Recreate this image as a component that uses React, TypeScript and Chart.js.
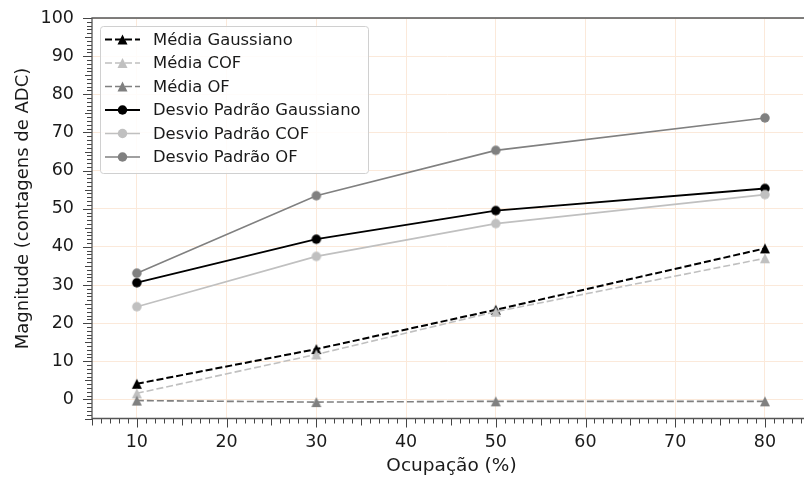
import React, { useEffect, useRef } from "react";
import { Chart, registerables } from "chart.js";

Chart.register(...registerables);

// ---- Data ----
const occupancy = [10, 30, 50, 80];
const mediaGaussiano = [4.1, 13.2, 23.5, 39.6];
const mediaCOF = [1.6, 11.8, 23.0, 37.0];
const mediaOF = [-0.3, -0.7, -0.5, -0.5];
const desvioGaussiano = [30.6, 42.0, 49.5, 55.3];
const desvioCOF = [24.3, 37.5, 46.1, 53.7];
const desvioOF = [33.1, 53.4, 65.3, 73.8];

const seriesLabels = [
  "Média Gaussiano",
  "Média COF",
  "Média OF",
  "Desvio Padrão Gaussiano",
  "Desvio Padrão COF",
  "Desvio Padrão OF",
];

const xTickValues = [10, 20, 30, 40, 50, 60, 70, 80];
const yTickValues = [0, 10, 20, 30, 40, 50, 60, 70, 80, 90, 100];

const xTitle = "Ocupação (%)";
const yTitle = "Magnitude (contagens de ADC)";

const X_MIN = 5;
const X_MAX = 84.24;
const Y_MIN = -5;
const Y_MAX = 100;

const FONT = "'DejaVu Sans', 'Liberation Sans', sans-serif";

type Shape = "triangle" | "circle";

function drawMarker(
  ctx: CanvasRenderingContext2D,
  shape: Shape,
  x: number,
  y: number,
  color: string,
  size: number
) {
  ctx.save();
  ctx.fillStyle = color;
  ctx.beginPath();
  if (shape === "triangle") {
    const h = size / 2;
    ctx.moveTo(x, y - h);
    ctx.lineTo(x + h, y + h);
    ctx.lineTo(x - h, y + h);
    ctx.closePath();
  } else {
    ctx.arc(x, y, size / 2, 0, Math.PI * 2);
  }
  ctx.fill();
  ctx.restore();
}

function makeMarker(shape: Shape, color: string, size: number) {
  const c = document.createElement("canvas");
  c.width = 14;
  c.height = 14;
  const ctx = c.getContext("2d")!;
  drawMarker(ctx, shape, 7, 7, color, size);
  return c;
}

const BLACK = "#000000";
const SILVER = "#c0c0c0";
const GRAY = "#808080";
const DASH = [7, 3];

const styles = [
  { color: BLACK, dash: DASH, shape: "triangle" as Shape, width: 2 },
  { color: SILVER, dash: DASH, shape: "triangle" as Shape, width: 1.6 },
  { color: GRAY, dash: DASH, shape: "triangle" as Shape, width: 1.6 },
  { color: BLACK, dash: [] as number[], shape: "circle" as Shape, width: 1.8 },
  { color: SILVER, dash: [] as number[], shape: "circle" as Shape, width: 1.6 },
  { color: GRAY, dash: [] as number[], shape: "circle" as Shape, width: 1.6 },
];

const MARKER_SIZE: Record<Shape, number> = { triangle: 10, circle: 9.5 };

const mplPlugin = {
  id: "mplAxesLegend",
  afterDraw(chart: any) {
    const { ctx, chartArea, scales } = chart;
    const { left, right, top, bottom } = chartArea;
    const xs = scales.x;
    const ys = scales.y;
    ctx.save();
    // ticks (major / medium / minor)
    ctx.strokeStyle = "#444";
    ctx.lineWidth = 1;
    for (let v = Math.ceil(xs.min); v <= xs.max; v += 1) {
      const px = Math.round(xs.getPixelForValue(v)) + 0.5;
      const len = v % 10 === 0 ? 9 : v % 5 === 0 ? 7 : 5;
      ctx.beginPath();
      ctx.moveTo(px, bottom);
      ctx.lineTo(px, bottom + len);
      ctx.stroke();
    }
    for (let v = Math.ceil(ys.min); v <= ys.max; v += 1) {
      const py = Math.round(ys.getPixelForValue(v)) + 0.5;
      const len = v % 10 === 0 ? 9 : v % 5 === 0 ? 7 : 5;
      ctx.beginPath();
      ctx.moveTo(left, py);
      ctx.lineTo(left - len, py);
      ctx.stroke();
    }
    // spines
    ctx.strokeStyle = "#555";
    ctx.lineWidth = 1.3;
    ctx.beginPath();
    ctx.moveTo(right + 2, top);
    ctx.lineTo(left, top);
    ctx.lineTo(left, bottom);
    ctx.lineTo(right + 2, bottom);
    ctx.stroke();

    // axis titles
    ctx.fillStyle = "#1a1a1a";
    ctx.textAlign = "center";
    ctx.textBaseline = "middle";
    ctx.font = `18.5px ${FONT}`;
    ctx.fillText(xTitle, 451.5, 466);
    ctx.save();
    ctx.translate(23, 208.5);
    ctx.rotate(-Math.PI / 2);
    ctx.font = `18px ${FONT}`;
    ctx.fillText(yTitle, 0, 0);
    ctx.restore();

    // legend
    const bx = 100.5;
    const by = 26.5;
    const bw = 268;
    const bh = 147;
    const r = 3;
    ctx.beginPath();
    ctx.moveTo(bx + r, by);
    ctx.lineTo(bx + bw - r, by);
    ctx.arcTo(bx + bw, by, bx + bw, by + r, r);
    ctx.lineTo(bx + bw, by + bh - r);
    ctx.arcTo(bx + bw, by + bh, bx + bw - r, by + bh, r);
    ctx.lineTo(bx + r, by + bh);
    ctx.arcTo(bx, by + bh, bx, by + bh - r, r);
    ctx.lineTo(bx, by + r);
    ctx.arcTo(bx, by, bx + r, by, r);
    ctx.closePath();
    ctx.fillStyle = "rgba(255,255,255,0.85)";
    ctx.fill();
    ctx.strokeStyle = "#d0d0d0";
    ctx.lineWidth = 1;
    ctx.stroke();

    chart.data.datasets.forEach((ds: any, i: number) => {
      const st = styles[i];
      const cy = 39.5 + i * 23.5;
      ctx.save();
      ctx.strokeStyle = st.color;
      ctx.lineWidth = st.width;
      ctx.setLineDash(st.dash);
      ctx.beginPath();
      ctx.moveTo(105, cy);
      ctx.lineTo(140, cy);
      ctx.stroke();
      ctx.restore();
      drawMarker(ctx, st.shape, 122.5, cy, st.color, MARKER_SIZE[st.shape]);
      ctx.fillStyle = "#1a1a1a";
      ctx.font = `16.4px ${FONT}`;
      ctx.textBaseline = "middle";
      ctx.textAlign = "left";
      ctx.fillText(ds.label, 153, cy + 1);
    });
    ctx.restore();
  },
};

export default function App() {
  const ref = useRef<HTMLCanvasElement | null>(null);

  useEffect(() => {
    document.body.style.margin = "0";
    const seriesValues = [
      mediaGaussiano,
      mediaCOF,
      mediaOF,
      desvioGaussiano,
      desvioCOF,
      desvioOF,
    ];
    const datasets = seriesValues.map((vals, i) => {
      const st = styles[i];
      return {
        label: seriesLabels[i],
        data: occupancy.map((x, j) => ({ x, y: vals[j] })),
        borderColor: st.color,
        backgroundColor: st.color,
        borderWidth: st.width,
        borderDash: st.dash,
        pointStyle: makeMarker(st.shape, st.color, MARKER_SIZE[st.shape]),
        pointRadius: 1,
        pointBorderWidth: 0,
        pointHoverRadius: 1,
        pointHoverBorderWidth: 0,
        tension: 0,
        fill: false,
        order: seriesValues.length - i,
      };
    });

    const chart = new Chart(ref.current!, {
      type: "line",
      data: { datasets },
      plugins: [mplPlugin],
      options: {
        animation: false,
        responsive: false,
        events: [],
        layout: { padding: { top: 18, right: 0, bottom: 0, left: 0 } },
        plugins: {
          legend: { display: false },
          tooltip: { enabled: false },
        },
        scales: {
          x: {
            type: "linear",
            min: X_MIN,
            max: X_MAX,
            afterBuildTicks: (scale: any) => {
              scale.ticks = xTickValues.map((v) => ({ value: v }));
            },
            afterFit: (scale: any) => {
              scale.height = 58.5;
              scale.paddingLeft = 0;
              scale.paddingRight = 0;
            },
            border: { display: false },
            grid: {
              color: "#fbe9da",
              lineWidth: 1,
              drawTicks: false,
            },
            ticks: {
              padding: 13,
              color: "#1a1a1a",
              font: { family: FONT, size: 17.5 },
              callback: (v: any) => String(v),
              maxRotation: 0,
            },
          },
          y: {
            type: "linear",
            min: Y_MIN,
            max: Y_MAX,
            afterBuildTicks: (scale: any) => {
              scale.ticks = yTickValues.map((v) => ({ value: v }));
            },
            afterFit: (scale: any) => {
              scale.width = 92;
              scale.paddingTop = 0;
              scale.paddingBottom = 0;
            },
            border: { display: false },
            grid: {
              color: "#fbe9da",
              lineWidth: 1,
              drawTicks: false,
            },
            ticks: {
              padding: 18,
              color: "#1a1a1a",
              font: { family: FONT, size: 17.5 },
              callback: (v: any) => String(v),
            },
          },
        },
      },
    });
    return () => chart.destroy();
  }, []);

  return (
    <canvas
      ref={ref}
      width={804}
      height={477}
      style={{ display: "block", width: 804, height: 477 }}
    />
  );
}
